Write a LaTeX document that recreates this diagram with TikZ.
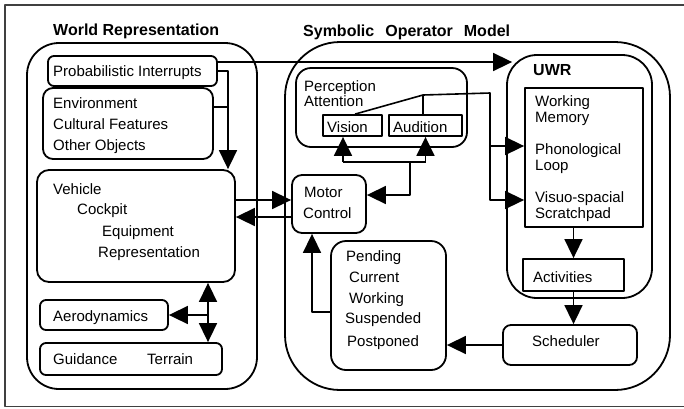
\documentclass[tikz,border=0pt]{standalone}
\usepackage{fontspec}
\setmainfont{Liberation Sans}
\usetikzlibrary{arrows.meta,fit}

\begin{document}
\begin{tikzpicture}[x=1pt,y=-1pt,line join=round,
    box/.style={draw,line width=1.8pt,inner sep=0pt,rounded corners=#1},
    sbox/.style={draw,line width=1.8pt,inner sep=0pt},
    lbl/.style={anchor=base west,inner sep=0pt,font=\fontsize{15}{18}\selectfont},
    head/.style={anchor=base west,inner sep=0pt,font=\fontsize{16}{19}\selectfont\bfseries},
    con/.style={line width=1.6pt},
    arr/.style={con,-{Triangle[length=19pt,width=18pt]}},
    darr/.style={con,{Triangle[length=19pt,width=18pt]}-{Triangle[length=19pt,width=18pt]}}]

  \useasboundingbox (0,0) rectangle (684,408);
  % frame
  \draw[line width=1.2pt,black!75] (684,5) -- (5,5) -- (5,406.5) -- (684,406.5);

  % World Representation
  \node[box=32pt,fit={(27,43) (257,389)}] (world) {};
  \node[box=6pt,fit={(48,56) (217,86)}] (pint) {};
  \node[box=10pt,fit={(43,88) (213,159)}] (env) {};
  \node[box=12pt,fit={(37,170) (235,282)}] (veh) {};
  \node[box=6pt,fit={(40,300) (168,330)}] (aero) {};
  \node[box=6pt,fit={(40,343) (222,375)}] (guid) {};

  % Symbolic Operator Model
  \node[box=55pt,fit={(285,42) (670,390)}] (som) {};
  \node[box=15pt,fit={(296,68) (467,147)}] (perc) {};
  \node[sbox,fit={(323,115) (382,136)}] (vis) {};
  \node[sbox,fit={(389,115) (462,136)}] (aud) {};
  \node[box=10pt,fit={(292,175) (366,233)}] (motor) {};
  \node[box=15pt,fit={(331,241) (446,370)}] (pend) {};
  \node[box=30pt,fit={(507,55) (652,298)}] (uwr) {};
  \node[sbox,fit={(525,88) (643,227)}] (wm) {};
  \node[sbox,fit={(523,259) (624,291)}] (act) {};
  \node[box=8pt,fit={(503,325) (637,365)}] (sched) {};

  % Labels
  \node[head] (wtitle) at (53,35) {World Representation};
  \node[head] (stitle) at (303,36) {Symbolic\hspace{11pt}Operator\hspace{11pt}Model};
  \node[head] (utitle) at (533,75) {UWR};

  \foreach \txt/\xx/\yy [count=\i] in {Probabilistic Interrupts/53/76,
      Environment/53/108, Cultural Features/53/129, Other Objects/53/150,
      Vehicle/53/194, Cockpit/77/214, Equipment/102/236, Representation/98/257,
      Aerodynamics/53/321, Guidance/53/364, Terrain/147/364}
    \node[lbl] (wl\i) at (\xx,\yy) {\txt};

  \foreach \txt/\xx/\yy [count=\i] in {Perception/304/91, Attention/304/106,
      Vision/327/132, Audition/393/132, Motor/304/197, Control/303/218,
      Pending/346/261, Current/349/282, Working/349/303, Suspended/345/323,
      Postponed/347/346, Working/535/106, Memory/535/122, Phonological/535/154,
      Loop/535/170, Visuo-spacial/535/202, Scratchpad/535/218,
      Activities/533/282, Scheduler/532/346}
    \node[lbl] (sl\i) at (\xx,\yy) {\txt};

  % Connectors, world side
  \coordinate (wbus) at (228,107);
  \coordinate (vbus) at (208,315);
  \draw[arr,shorten >=-6pt] (pint.east |- 0,62) -- (uwr.west |- 0,62);
  \draw[arr] (pint.east) -| (veh.north -| wbus);
  \draw[con] (env.east |- wbus) -- (wbus);
  \draw[arr] (veh.east |- 0,200) -- (motor.west |- 0,200);
  \draw[arr] (motor.west |- 0,217) -- (veh.east |- 0,217);
  \draw[darr] (veh.south -| vbus) -- (guid.north -| vbus);
  \draw[arr] (vbus) -- (aero.east |- vbus);

  % Connectors, operator side
  \coordinate (pjoin) at (410,162);
  \coordinate (pvis) at (343,162);
  \coordinate (paud) at (aud.south |- pjoin);
  \draw[con] (pvis) -- (paud);
  \draw[arr] (pvis) -- (vis.south -| pvis);
  \draw[arr] (paud) -- (aud.south);
  \draw[arr] (pjoin) |- (motor.east |- 0,195);

  \coordinate (pbend) at (423,95);
  \coordinate (pdrop) at (490,93);
  \draw[arr] (vis.north -| 355,0) -- (pbend) -- (pdrop) |- (wm.west |- 0,200);
  \draw[arr] (pdrop |- 0,146) -- (wm.west |- 0,146);
  \draw[con] (aud.north -| pbend) -- (pbend);

  \draw[arr] (wm.south -| act.north) -- (act.north);
  \draw[arr] (act.south) -- (sched.north -| act.south);
  \draw[arr] (sched.west) -- (sched.west -| pend.east);
  \draw[arr] (pend.west |- 0,312) -| (motor.south -| 312,0);

\end{tikzpicture}
\end{document}
